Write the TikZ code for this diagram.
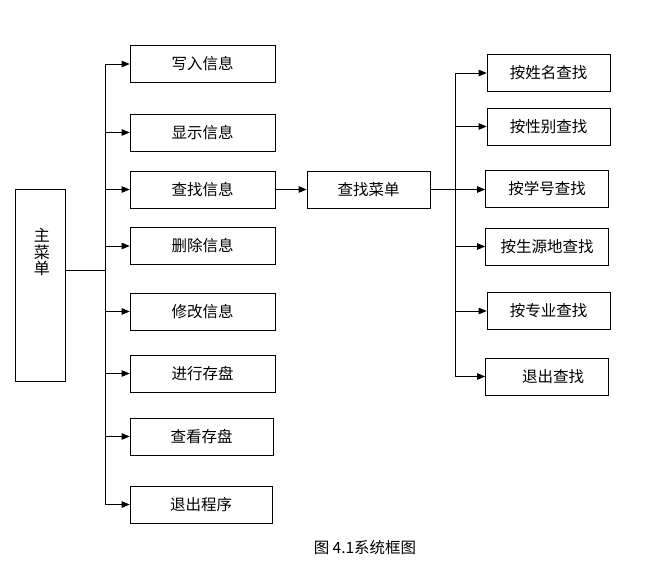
\documentclass[tikz,border=0pt]{standalone}
\usepackage{fontspec}
\newfontfamily\cjk{Noto Sans CJK SC}
\usetikzlibrary{arrows.meta}
\begin{document}
\begin{tikzpicture}
    [x=1pt,y=-1pt,line width=0.7pt,
     every node/.style={draw,font=\cjk\fontsize{15.5}{17}\selectfont,inner sep=0pt},
     menubox/.style={minimum width=145pt,minimum height=37pt},
     findbox/.style={minimum width=123pt,minimum height=37pt},
     arr/.style={-{Triangle[length=8pt,width=6.5pt]}}]
    \useasboundingbox (0,0) rectangle (659,575);
    % main menu
    \node (main) at (40,285) [minimum width=50pt,minimum height=192pt] {};
    \node (mainlbl) at (42,252) [draw=none,align=center,font=\cjk\fontsize{16}{16.5}\selectfont] {主\\菜\\单};
    % left column
    \node[menubox] (nWrite)  at (202.5,64)    {写入信息};
    \node[menubox] (nShow)   at (202.5,132.5) {显示信息};
    \node[menubox] (nFind)   at (202.5,189.5) {查找信息};
    \node[menubox] (nDel)    at (202.5,246)   {删除信息};
    \node[menubox] (nEdit)   at (202.5,311.5) {修改信息};
    \node[menubox] (nSave)   at (202.5,373.5) {进行存盘};
    \node[menubox] (nLook)   at (201.5,436.5) [minimum width=143pt] {查看存盘};
    \node[menubox] (nQuit)   at (201,504.5)   [minimum width=142pt] {退出程序};
    % search menu
    \node[findbox] (nMenu)   at (368.5,189.5) {查找菜单};
    % right column
    \node[findbox] (sName)   at (548.5,73)    {按姓名查找};
    \node[findbox] (sSex)    at (548.5,126.5) {按性别查找};
    \node[findbox] (sNum)    at (547,188.5)   {按学号查找};
    \node[findbox] (sHome)   at (547,246.5)   {按生源地查找};
    \node[findbox] (sMajor)  at (548.5,311)   {按专业查找};
    \node[findbox] (sQuit)   at (547,376.5)   {\hspace{12pt}退出查找};
    % caption
    \node[draw=none] (cap) at (365,548) {图 4.1系统框图};

    \coordinate (busA) at (105,0);
    \coordinate (busB) at (455,0);
    \coordinate (mj) at (65,270);

    \draw (mj) -- (busA |- mj);
    \draw (busA |- nWrite) -- (busA |- nQuit);
    \foreach \to in {nWrite,nShow,nFind,nDel,nEdit,nSave,nLook,nQuit}
      \draw[arr] (busA |- \to) -- (\to.west);

    \draw[arr] (nFind) -- (nMenu);
    \draw[arr] (nMenu.east) -- (sNum.west |- nMenu.east);
    \draw (busB |- sName) -- (busB |- sQuit);
    \foreach \to in {sName,sSex,sHome,sMajor,sQuit}
      \draw[arr] (busB |- \to) -- (\to.west);
  \end{tikzpicture}
\end{document}
